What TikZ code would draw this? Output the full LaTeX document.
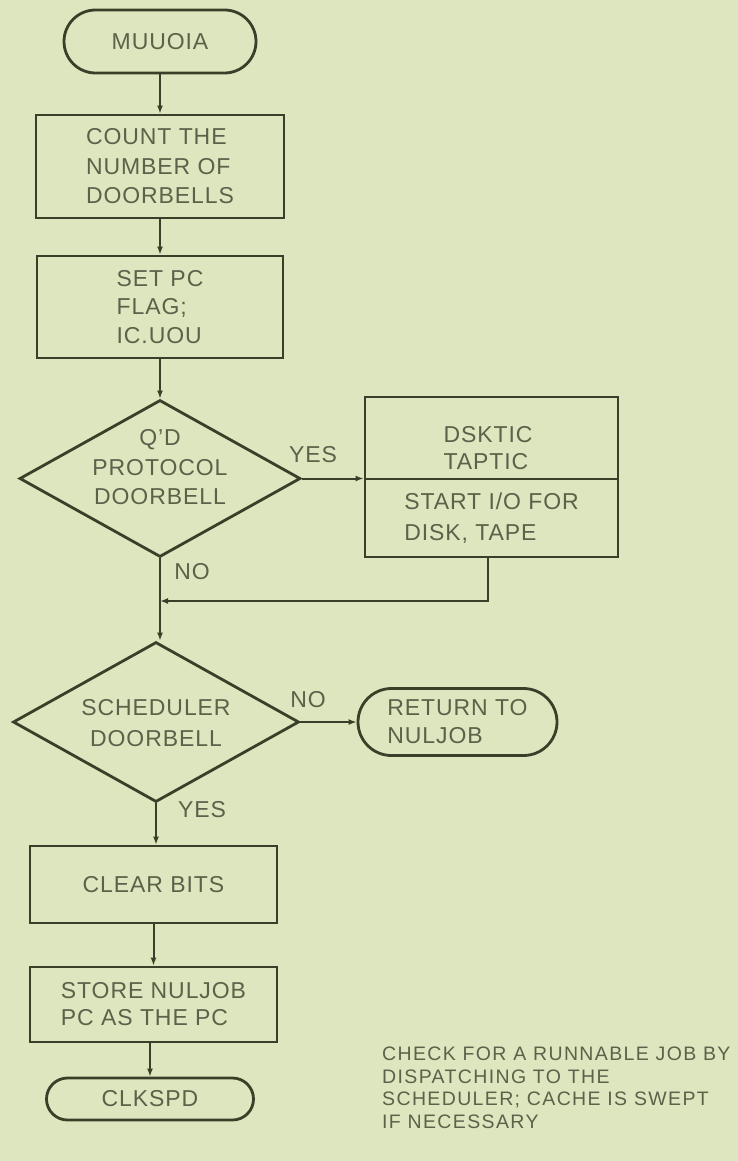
\documentclass[tikz,border=0pt]{standalone}
\usepackage{fontspec}
\setmainfont{Liberation Sans}[LetterSpace=4]
\usetikzlibrary{shapes.geometric,shapes.misc,arrows.meta}
\definecolor{bg}{RGB}{221,230,190}
\definecolor{ink}{RGB}{58,63,42}
\definecolor{txt}{RGB}{92,97,74}
\tikzset{
  base/.style={draw=ink, line width=2.8pt, text=txt, inner sep=0pt, font=\fontsize{23}{29.5}\selectfont},
  procbox/.style={base, rectangle},
  termbox/.style={base, rounded rectangle},
  decbox/.style={base, diamond},
  conn/.style={draw=ink, line width=2pt, -{Latex[length=8pt,width=6pt]}},
  plainline/.style={draw=ink, line width=2pt},
  lab/.style={text=txt, inner sep=0pt, font=\fontsize{23}{29.5}\selectfont},
  note/.style={text=txt, inner sep=0pt, align=left, anchor=north west,
    font=\fontsize{19.5}{22.5}\selectfont\addfontfeature{LetterSpace=7}}
}
\begin{document}
\begin{tikzpicture}[x=1pt,y=-1pt]
\fill[bg] (0,0) rectangle (738,1161);
\useasboundingbox (0,0) rectangle (738,1161);

% main column
\node[termbox, minimum width=192pt, minimum height=63pt] (start) at (160,41.5) {MUUOIA};
\node[procbox, minimum width=248pt, minimum height=103pt, align=left] (count) at (160,166.5) {COUNT THE\\NUMBER OF\\DOORBELLS};
\node[procbox, minimum width=246pt, minimum height=102pt, align=left, font=\fontsize{23}{28.5}\selectfont] (setpc) at (160,307) {SET PC\\FLAG;\\IC.UOU};
\node[decbox, minimum width=281pt, minimum height=157pt] (dia1) at (160,478.5) {};
\node[lab, align=center] (dia1t) at (160,467.5) {Q’D\\PROTOCOL\\DOORBELL};

% I/O box
\node[procbox, minimum width=253pt, minimum height=82pt] (dsk) at (491.5,438) {};
\node[lab, align=left, font=\fontsize{23}{27}\selectfont] (dskt) at (488,448) {DSKTIC\\TAPTIC};
\node[procbox, minimum width=253pt, minimum height=78pt, align=left, font=\fontsize{23}{31}\selectfont] (iobot) at (491.5,518) {START I/O FOR\\DISK, TAPE};
\coordinate (rx) at (488,0);
\coordinate (my) at (0,601);
\coordinate (merge) at (dia1.south |- my);

% second decision
\node[decbox, minimum width=286pt, minimum height=160pt] (dia2) at (156,722) {};
\node[lab, align=center, font=\fontsize{23}{31}\selectfont] (dia2t) at (156,723.5) {SCHEDULER\\DOORBELL};
\node[termbox, minimum width=199pt, minimum height=67pt, align=left, font=\fontsize{23}{28}\selectfont] (ret) at (457.5,722) {RETURN TO\\NULJOB};

% lower column
\node[procbox, minimum width=247pt, minimum height=77pt] (clear) at (153.5,884.5) {CLEAR BITS};
\node[procbox, minimum width=247pt, minimum height=75pt, align=left, font=\fontsize{23}{27}\selectfont] (store) at (153.5,1004.5) {STORE NULJOB\\PC AS THE PC};
\node[termbox, minimum width=207pt, minimum height=42pt] (clk) at (150,1099) {CLKSPD};

% labels
\node[lab] (yes1) at (313,455) {YES};
\node[lab] (no1) at (192,572) {NO};
\node[lab] (no2) at (308,700) {NO};
\node[lab] (yes2) at (202,810) {YES};

\node[note] (notet) at (382,1047) {CHECK FOR A RUNNABLE JOB BY\\DISPATCHING TO THE\\SCHEDULER; CACHE IS SWEPT\\IF NECESSARY};

% connectors
\draw[conn] (start.south) -- (count.north);
\draw[conn] (count.south) -- (setpc.north);
\draw[conn] (setpc.south) -- (dia1.north);
\draw[conn] (dia1.east) -- (dia1.east -| dsk.west);
\draw[conn] (iobot.south -| rx) |- (merge);
\draw[plainline] (dia1.south) -- (merge);
\draw[conn] (merge) -- (merge |- dia2.north);
\draw[conn] (dia2.east) -- (ret.west);
\draw[conn] (dia2.south) -- (dia2.south |- clear.north);
\draw[conn] (clear.south) -- (store.north);
\draw[conn] (store.south -| clk.north) -- (clk.north);
\end{tikzpicture}
\end{document}
